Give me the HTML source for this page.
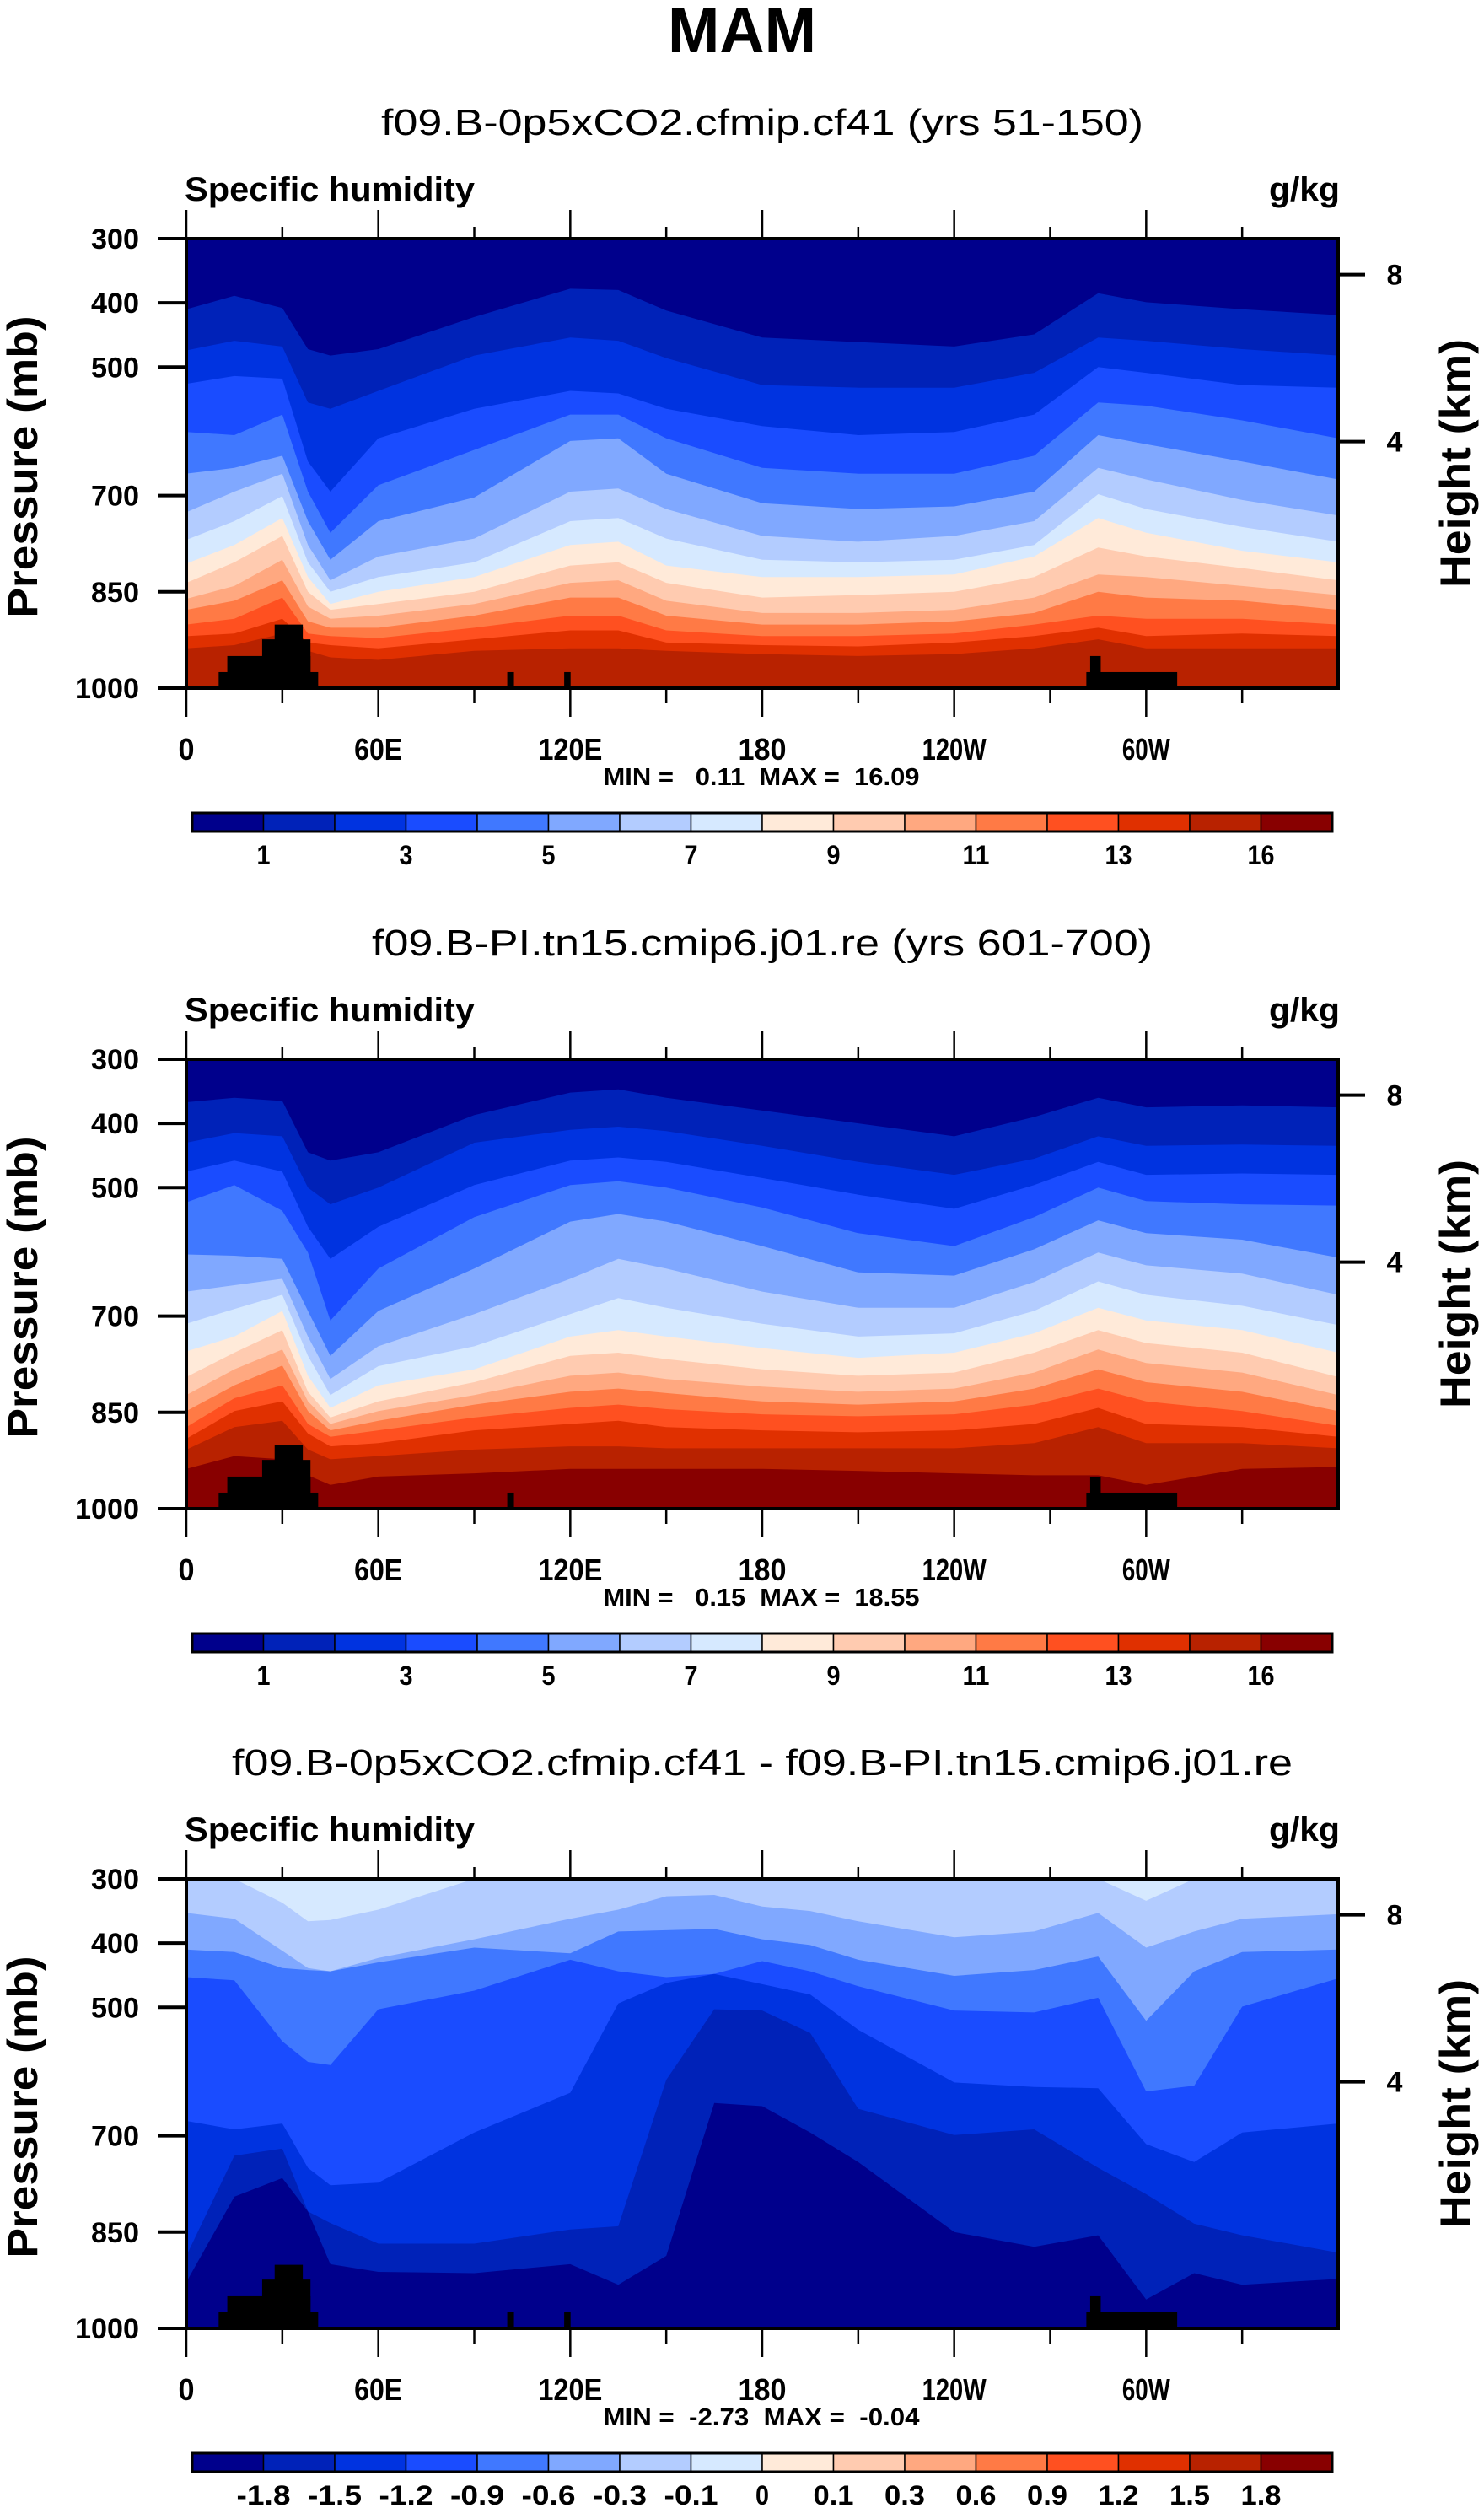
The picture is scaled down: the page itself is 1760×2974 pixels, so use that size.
<!DOCTYPE html>
<html><head><meta charset="utf-8"><style>
html,body{margin:0;padding:0;background:#fff;}
svg{display:block;}
text{font-family:"Liberation Sans",sans-serif;fill:#000;}
</style></head><body>
<svg id="fig" width="1760" height="2974" viewBox="0 0 1760 2974" xmlns="http://www.w3.org/2000/svg">
<text x="880" y="62" text-anchor="middle" font-size="76" font-weight="bold" textLength="176" lengthAdjust="spacingAndGlyphs">MAM</text>
</svg>
<script>
// ---------- data ----------
const colors = ["#00008c","#0022b8","#0033e0","#1a4cff","#4078ff","#80a8ff","#b3ccff","#d6e9ff","#ffead9","#ffcbb0","#ffa880","#ff7a45","#ff5020","#e03000","#b82200","#880000"];
const cbLabels12 = ["1","","3","","5","","7","","9","","11","","13","","16"];
const cbLabels3 = ["-1.8","-1.5","-1.2","-0.9","-0.6","-0.3","-0.1","0","0.1","0.3","0.6","0.9","1.2","1.5","1.8"];
const pressTicks = [300,400,500,700,850,1000];
const heightTickKm = [8,4];
const heightTickP = [356,616];
const lonTicks = [0,60,120,180,240,300];
const lonTickLabels = ["0","60E","120E","180","120W","60W"];

const lonsA = [0,15,30,38,45,60,90,120,135,150,180,210,240,265,285,300,330,360];
const p1Bounds = [
[410,389,408,472,482,472,422,378,380,412,454,461,468,449,385,399,410,419],
[474,459,468,555,565,537,482,454,459,486,528,532,532,509,454,459,472,482],
[526,514,518,647,694,611,565,537,541,565,592,606,601,574,500,509,528,532],
[601,606,574,694,758,684,629,574,574,611,657,666,666,638,555,560,583,611],
[666,657,638,740,800,740,703,615,611,666,712,721,717,694,606,620,647,675],
[726,694,666,777,832,795,767,694,689,721,763,772,763,740,657,675,707,731],
[769,740,701,804,850,827,804,740,735,767,800,804,800,777,698,721,749,772],
[806,777,735,827,869,850,827,777,772,809,827,827,823,795,735,758,786,804],
[836,804,763,850,878,869,850,809,804,836,859,855,850,827,781,795,813,832],
[861,841,800,873,892,887,869,836,832,864,883,883,878,859,823,827,841,855],
[878,864,832,896,906,906,887,859,859,887,901,901,896,883,850,859,864,878],
[901,892,859,915,919,922,906,887,887,910,919,919,915,901,887,892,892,901],
[919,915,892,929,933,938,924,910,910,929,933,935,929,919,906,919,915,919],
[938,933,915,942,952,956,942,938,938,942,947,950,947,938,924,938,938,938]
];
const p2Bounds = [
[367,360,365,445,458,445,387,352,347,360,380,400,420,390,360,375,372,375],
[430,415,420,500,526,500,430,410,405,412,435,460,480,455,420,435,433,435],
[475,458,475,561,611,561,496,458,453,460,485,511,533,496,460,480,478,480],
[523,496,536,601,707,626,546,496,490,500,531,571,591,546,500,521,526,528],
[604,606,611,692,762,692,626,553,541,553,591,632,637,596,551,571,581,609],
[662,652,642,732,798,747,697,642,611,626,662,687,687,647,601,621,634,667],
[712,689,667,762,823,778,747,697,672,687,712,732,727,692,646,667,684,714],
[755,732,692,793,843,808,783,732,722,732,750,765,757,727,687,707,722,757],
[795,757,722,818,858,833,803,762,757,767,783,793,788,757,722,742,757,795],
[823,783,752,833,868,848,823,793,788,798,810,818,813,788,752,773,788,823],
[848,808,777,848,878,863,838,818,813,820,833,838,833,813,783,803,818,848],
[873,828,808,868,888,878,858,843,838,845,853,856,853,838,813,833,848,871],
[891,848,833,883,903,898,878,868,863,873,878,881,878,868,843,868,873,888],
[908,873,863,908,923,918,908,903,903,906,906,906,906,898,873,898,898,906],
[938,918,923,948,963,950,945,938,938,938,938,941,945,948,948,963,938,935]
];
const lonsC = [0,15,30,38,45,60,90,120,135,150,165,180,195,210,240,265,285,300,315,330,360];
const p3Bounds = [
[300,300,337,366,364,348,300,300,300,300,300,300,300,300,300,300,300,334,300,300,300],
[353,362,412,439,444,423,394,362,348,327,325,343,350,366,391,382,353,407,382,362,355],
[410,414,439,442,444,430,407,416,382,380,378,394,403,426,451,442,421,521,444,414,410],
[453,458,553,585,590,503,474,426,444,453,448,428,444,467,505,508,485,631,622,499,455],
[677,690,681,750,777,773,695,633,494,462,448,464,480,535,617,624,626,713,741,695,681],
[887,731,720,818,836,868,868,846,841,613,503,505,540,658,699,690,750,791,837,855,882],
[928,795,766,818,900,912,914,900,932,887,649,654,695,741,850,873,855,955,914,932,923]
];
const p12Bands = [0,1,2,3,4,5,6,7,8,9,10,11,12,13,14,15];
const p3Bands = [7,6,5,4,3,2,1,0];

const terrLonA = [10.1,12.8,23.7,27.6,100.3,118.1,281.3,282.5];
const terrLonB = [41.2,38.8,38.8,36.4,102.4,120.1,309.7,285.8];
const terrTopP = [975,950,924,901,975,975,975,950];
const terrOnP2 = [1,1,1,1,1,0,1,1];

// ---------- drawing ----------
const NS = "http://www.w3.org/2000/svg";
const svg = document.getElementById("fig");
const PL = 221, PR = 1587, PH = 533;
function mk(tag, attrs, parent){
  const e = document.createElementNS(NS, tag);
  for (const k in attrs) e.setAttribute(k, attrs[k]);
  (parent||svg).appendChild(e);
  return e;
}
function xOf(lon){ return PL + lon/360*(PR-PL); }

function panel(idx, top, subtitle, subX0, subX1, lons, bounds, bands, minmax, cbl, terrMask){
  const g = mk("g", {});
  
  
  const yOf = p => top + (p-300)/700*PH;
  const bottom = top + PH;
  const st = mk("text", {x:(subX0+subX1)/2, y:top-123, "text-anchor":"middle", "font-size":44, textLength:subX1-subX0, lengthAdjust:"spacingAndGlyphs"}, g);
  st.textContent = subtitle;
  
  
  const lt = mk("text", {x:219, y:top-45, "font-size":40, "font-weight":"bold", textLength:344, lengthAdjust:"spacingAndGlyphs"}, g);
  lt.textContent = "Specific humidity";
  
  
  const ut = mk("text", {x:1589, y:top-45, "text-anchor":"end", "font-size":40, "font-weight":"bold", textLength:84, lengthAdjust:"spacingAndGlyphs"}, g);
  ut.textContent = "g/kg";
  
  
  const cid = "clip"+idx;
  const cp = mk("clipPath", {id:cid}, g);
  mk("rect", {x:PL, y:top, width:PR-PL, height:PH}, cp);
  const pg = mk("g", {"clip-path":"url(#"+cid+")"}, g);
  
  
  const bg = mk("rect", {x:PL, y:top, width:PR-PL, height:PH, fill:colors[bands[0]]}, pg);
  
  
  bounds.forEach((b, k) => {
    let d = "M" + xOf(lons[0]) + "," + yOf(b[0]);
    for (let i=1;i<lons.length;i++) d += " L" + xOf(lons[i]).toFixed(1) + "," + yOf(b[i]).toFixed(1);
    d += " L" + PR + "," + (bottom+2) + " L" + PL + "," + (bottom+2) + " Z";
    const pa = mk("path", {d:d, fill:colors[bands[k+1]]}, pg);
    
    
  });
  terrLonA.forEach((a, i) => {
    if (!terrMask[i]) return;
    const r = mk("rect", {x:xOf(a), y:yOf(terrTopP[i]), width:xOf(terrLonB[i])-xOf(a), height:bottom-yOf(terrTopP[i]), fill:"#000"}, pg);
    
    
  });
  const fr = mk("rect", {x:PL, y:top, width:PR-PL, height:PH, fill:"none", stroke:"#000", "stroke-width":4}, g);
  
  
  for (let lon=0; lon<=330; lon+=30){
    const major = lon%60===0;
    const x = xOf(lon);
    const t1 = mk("line", {x1:x, x2:x, y1:top, y2:top-(major?34:14), stroke:"#000", "stroke-width":2.5}, g);
    
    
    const t2 = mk("line", {x1:x, x2:x, y1:bottom, y2:bottom+(major?34:18), stroke:"#000", "stroke-width":2.5}, g);
    
    
  }
  lonTicks.forEach((lon, i) => {
    const tl = mk("text", {x:xOf(lon), y:bottom+85, "text-anchor":"middle", "font-size":36, "font-weight":"bold", textLength:lonTickLabels[i].length*19, lengthAdjust:"spacingAndGlyphs"}, g);
    tl.textContent = lonTickLabels[i];
    
    
  });
  pressTicks.forEach(p => {
    const y = yOf(p);
    const tk = mk("line", {x1:187, x2:PL, y1:y, y2:y, stroke:"#000", "stroke-width":4}, g);
    
    
    const s = String(p);
    const tx = mk("text", {x:165, y:y+12, "text-anchor":"end", "font-size":34, "font-weight":"bold", textLength:s.length*19, lengthAdjust:"spacingAndGlyphs"}, g);
    tx.textContent = s;
    
    
  });
  heightTickKm.forEach((km, i) => {
    const y = yOf(heightTickP[i]);
    const tk = mk("line", {x1:PR, x2:1619, y1:y, y2:y, stroke:"#000", "stroke-width":4}, g);
    
    
    const tx = mk("text", {x:1654, y:y+12, "text-anchor":"middle", "font-size":34, "font-weight":"bold"}, g);
    tx.textContent = String(km);
    
    
  });
  const cy = top + PH/2;
  const yt = mk("text", {x:0, y:0, transform:"translate(44,"+(cy+4)+") rotate(-90)", "text-anchor":"middle", "font-size":50, "font-weight":"bold", textLength:358, lengthAdjust:"spacingAndGlyphs"}, g);
  yt.textContent = "Pressure (mb)";
  
  
  const ht = mk("text", {x:0, y:0, transform:"translate(1743,"+(cy+0)+") rotate(-90)", "text-anchor":"middle", "font-size":50, "font-weight":"bold", textLength:295, lengthAdjust:"spacingAndGlyphs"}, g);
  ht.textContent = "Height (km)";
  
  
  const mm = mk("text", {x:903, y:bottom+115, "text-anchor":"middle", "font-size":29, "font-weight":"bold", style:"white-space:pre", textLength:375, lengthAdjust:"spacingAndGlyphs"}, g);
  mm.textContent = minmax;
  
  
  const cbT = bottom + 148, cbX0 = 228, cbX1 = 1580, w = (cbX1-cbX0)/16;
  const cb = mk("g", {}, g);
  
  
  colors.forEach((c, i) => {
    const r = mk("rect", {x:cbX0+i*w, y:cbT, width:w, height:22, fill:c, stroke:"#000", "stroke-width":1.5}, cb);
    
    
  });
  mk("rect", {x:cbX0, y:cbT, width:cbX1-cbX0, height:22, fill:"none", stroke:"#000", "stroke-width":3}, cb);
  cbl.forEach((s, i) => {
    if (!s) return;
    const t = mk("text", {x:cbX0+(i+1)*w, y:cbT+61, "text-anchor":"middle", "font-size":32, "font-weight":"bold", textLength:s.length*16, lengthAdjust:"spacingAndGlyphs"}, cb);
    t.textContent = s;
    
    
  });
}

panel(0, 283, "f09.B-0p5xCO2.cfmip.cf41 (yrs 51-150)", 452, 1356, lonsA, p1Bounds, p12Bands, "MIN =   0.11  MAX =  16.09", cbLabels12, [1,1,1,1,1,1,1,1]);
panel(1, 1256, "f09.B-PI.tn15.cmip6.j01.re (yrs 601-700)", 441, 1367, lonsA, p2Bounds, p12Bands, "MIN =   0.15  MAX =  18.55", cbLabels12, terrOnP2);
panel(2, 2228, "f09.B-0p5xCO2.cfmip.cf41 - f09.B-PI.tn15.cmip6.j01.re", 275, 1533, lonsC, p3Bounds, p3Bands, "MIN =  -2.73  MAX =  -0.04", cbLabels3, [1,1,1,1,1,1,1,1]);
</script>
</body></html>
